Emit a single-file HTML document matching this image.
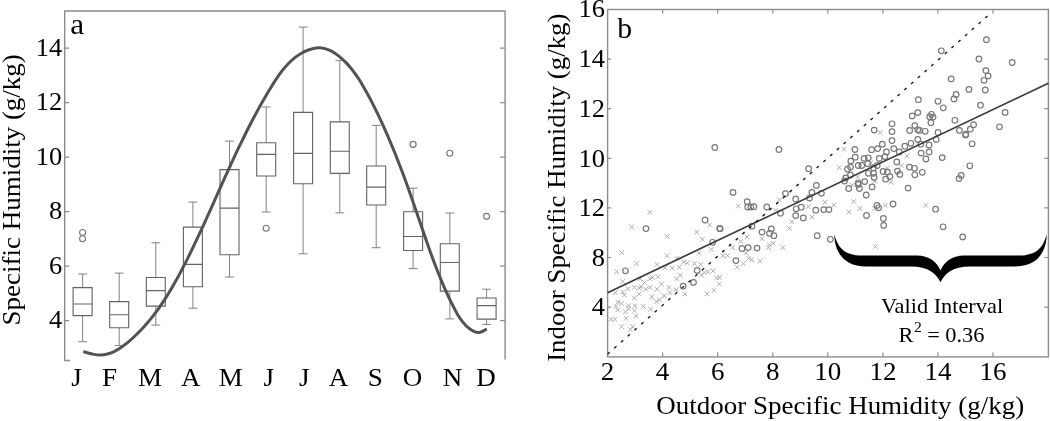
<!DOCTYPE html>
<html><head><meta charset="utf-8"><title>Specific humidity figure</title>
<style>
html,body{margin:0;padding:0;background:#fff;}
svg{display:block;font-family:'Liberation Serif', 'Times New Roman', serif;fill:#000;}
svg text{font-family:'Liberation Serif', 'Times New Roman', serif;}
</style></head><body>
<svg width="1050" height="421" viewBox="0 0 1050 421">
<rect width="1050" height="421" fill="#fff"/>
<path d="M70.2,360.5 H64.7 V11.0 H505.1 V359.5" fill="none" stroke="#8c8c8c" stroke-width="1.4"/>
<path d="M64.7,320.6 h4.5 M505.1,320.6 h-5" stroke="#8c8c8c" stroke-width="1.2" fill="none"/>
<text transform="translate(62.2,328.3) scale(1.06,1)" font-size="25" text-anchor="end">4</text>
<path d="M64.7,266.1 h4.5 M505.1,266.1 h-5" stroke="#8c8c8c" stroke-width="1.2" fill="none"/>
<text transform="translate(62.2,273.8) scale(1.06,1)" font-size="25" text-anchor="end">6</text>
<path d="M64.7,211.6 h4.5 M505.1,211.6 h-5" stroke="#8c8c8c" stroke-width="1.2" fill="none"/>
<text transform="translate(62.2,219.3) scale(1.06,1)" font-size="25" text-anchor="end">8</text>
<path d="M64.7,157.2 h4.5 M505.1,157.2 h-5" stroke="#8c8c8c" stroke-width="1.2" fill="none"/>
<text transform="translate(62.2,164.9) scale(1.06,1)" font-size="25" text-anchor="end">10</text>
<path d="M64.7,102.7 h4.5 M505.1,102.7 h-5" stroke="#8c8c8c" stroke-width="1.2" fill="none"/>
<text transform="translate(62.2,110.4) scale(1.06,1)" font-size="25" text-anchor="end">12</text>
<path d="M64.7,48.2 h4.5 M505.1,48.2 h-5" stroke="#8c8c8c" stroke-width="1.2" fill="none"/>
<text transform="translate(62.2,55.9) scale(1.06,1)" font-size="25" text-anchor="end">14</text>
<path d="M78.2,274 h8.8 M82.6,274 V287.6 M82.6,315.6 V341.7 M78.2,341.7 h8.8" fill="none" stroke="#7c7c7c" stroke-width="0.95"/>
<path d="M73.1,287.6 h19.0 V315.6 h-19.0 Z M73.1,304 h19.0" fill="none" stroke="#636363" stroke-width="1.1"/>
<circle cx="82.6" cy="232.5" r="3.0" fill="none" stroke="#777" stroke-width="1.15"/>
<circle cx="82.6" cy="238.7" r="3.0" fill="none" stroke="#777" stroke-width="1.15"/>
<path d="M114.8,273.1 h8.8 M119.2,273.1 V301.6 M119.2,327.7 V345.5 M114.8,345.5 h8.8" fill="none" stroke="#7c7c7c" stroke-width="0.95"/>
<path d="M109.7,301.6 h19.0 V327.7 h-19.0 Z M109.7,314.7 h19.0" fill="none" stroke="#636363" stroke-width="1.1"/>
<path d="M151.4,242.8 h8.8 M155.8,242.8 V277.5 M155.8,306.1 V325.1 M151.4,325.1 h8.8" fill="none" stroke="#7c7c7c" stroke-width="0.95"/>
<path d="M146.3,277.5 h19.0 V306.1 h-19.0 Z M146.3,290.6 h19.0" fill="none" stroke="#636363" stroke-width="1.1"/>
<path d="M188.5,202.1 h8.8 M192.9,202.1 V227.1 M192.9,286.7 V308.2 M188.5,308.2 h8.8" fill="none" stroke="#7c7c7c" stroke-width="0.95"/>
<path d="M183.4,227.1 h19.0 V286.7 h-19.0 Z M183.4,264.4 h19.0" fill="none" stroke="#636363" stroke-width="1.1"/>
<path d="M225.1,141.1 h8.8 M229.5,141.1 V169.6 M229.5,254.7 V277 M225.1,277 h8.8" fill="none" stroke="#7c7c7c" stroke-width="0.95"/>
<path d="M220.0,169.6 h19.0 V254.7 h-19.0 Z M220.0,208.1 h19.0" fill="none" stroke="#636363" stroke-width="1.1"/>
<path d="M261.8,107 h8.8 M266.2,107 V142.8 M266.2,176 V212 M261.8,212 h8.8" fill="none" stroke="#7c7c7c" stroke-width="0.95"/>
<path d="M256.7,142.8 h19.0 V176 h-19.0 Z M256.7,154.4 h19.0" fill="none" stroke="#636363" stroke-width="1.1"/>
<circle cx="266.2" cy="228.2" r="3.0" fill="none" stroke="#777" stroke-width="1.15"/>
<path d="M298.7,27.1 h8.8 M303.1,27.1 V112.4 M303.1,183.7 V253.8 M298.7,253.8 h8.8" fill="none" stroke="#7c7c7c" stroke-width="0.95"/>
<path d="M293.6,112.4 h19.0 V183.7 h-19.0 Z M293.6,153.4 h19.0" fill="none" stroke="#636363" stroke-width="1.1"/>
<path d="M335.4,60.4 h8.8 M339.8,60.4 V121.9 M339.8,173.4 V212.9 M335.4,212.9 h8.8" fill="none" stroke="#7c7c7c" stroke-width="0.95"/>
<path d="M330.3,121.9 h19.0 V173.4 h-19.0 Z M330.3,151.2 h19.0" fill="none" stroke="#636363" stroke-width="1.1"/>
<path d="M371.8,125.4 h8.8 M376.2,125.4 V166 M376.2,205 V247.7 M371.8,247.7 h8.8" fill="none" stroke="#7c7c7c" stroke-width="0.95"/>
<path d="M366.7,166 h19.0 V205 h-19.0 Z M366.7,187.1 h19.0" fill="none" stroke="#636363" stroke-width="1.1"/>
<path d="M408.7,188.2 h8.8 M413.1,188.2 V211.8 M413.1,250.5 V268.6 M408.7,268.6 h8.8" fill="none" stroke="#7c7c7c" stroke-width="0.95"/>
<path d="M403.6,211.8 h19.0 V250.5 h-19.0 Z M403.6,236.5 h19.0" fill="none" stroke="#636363" stroke-width="1.1"/>
<circle cx="413.1" cy="144.4" r="3.0" fill="none" stroke="#777" stroke-width="1.15"/>
<path d="M445.4,213 h8.8 M449.8,213 V243.7 M449.8,291.1 V318.9 M445.4,318.9 h8.8" fill="none" stroke="#7c7c7c" stroke-width="0.95"/>
<path d="M440.3,243.7 h19.0 V291.1 h-19.0 Z M440.3,262.5 h19.0" fill="none" stroke="#636363" stroke-width="1.1"/>
<circle cx="449.8" cy="153.2" r="3.0" fill="none" stroke="#777" stroke-width="1.15"/>
<path d="M482.2,289.2 h8.8 M486.6,289.2 V298 M486.6,319.1 V324.4 M482.2,324.4 h8.8" fill="none" stroke="#7c7c7c" stroke-width="0.95"/>
<path d="M477.1,298 h19.0 V319.1 h-19.0 Z M477.1,305.6 h19.0" fill="none" stroke="#636363" stroke-width="1.1"/>
<circle cx="486.6" cy="216.3" r="3.0" fill="none" stroke="#777" stroke-width="1.15"/>
<path d="M83.3,351.5 C84.8,352.0 89.2,353.6 92.4,354.1 C95.5,354.7 98.9,355.2 102.1,355.0 C105.2,354.8 108.3,354.0 111.2,352.9 C114.1,351.9 116.8,350.2 119.5,348.5 C122.2,346.8 124.7,344.8 127.2,342.8 C129.7,340.8 132.1,338.7 134.4,336.5 C136.8,334.3 139.0,332.1 141.2,329.8 C143.4,327.5 145.5,325.2 147.5,322.8 C149.6,320.4 151.6,317.9 153.5,315.4 C155.4,312.9 157.3,310.4 159.1,307.8 C161.0,305.2 162.7,302.5 164.5,299.9 C166.2,297.2 167.9,294.5 169.5,291.8 C171.2,289.0 172.8,286.3 174.3,283.5 C175.9,280.7 177.5,277.9 179.0,275.1 C180.5,272.3 182.0,269.5 183.4,266.6 C184.9,263.8 186.3,260.9 187.8,258.1 C189.2,255.2 190.6,252.4 192.0,249.5 C193.4,246.6 194.8,243.7 196.1,240.9 C197.5,238.0 198.9,235.1 200.2,232.2 C201.5,229.3 202.9,226.4 204.2,223.6 C205.5,220.7 206.8,217.8 208.1,214.9 C209.4,212.0 210.8,209.1 212.1,206.2 C213.4,203.3 214.6,200.4 215.9,197.5 C217.2,194.6 218.5,191.7 219.8,188.8 C221.1,185.9 222.4,183.0 223.7,180.1 C225.0,177.2 226.3,174.3 227.7,171.4 C229.0,168.5 230.3,165.7 231.6,162.8 C232.9,159.9 234.3,157.0 235.6,154.2 C237.0,151.3 238.3,148.4 239.7,145.6 C241.1,142.7 242.5,139.9 243.9,137.0 C245.3,134.2 246.7,131.3 248.1,128.5 C249.6,125.7 251.0,122.8 252.5,120.0 C254.0,117.2 255.5,114.4 257.0,111.6 C258.5,108.8 260.0,106.0 261.6,103.3 C263.2,100.5 264.8,97.7 266.4,95.0 C268.0,92.3 269.7,89.5 271.4,86.8 C273.0,84.1 274.7,81.3 276.5,78.7 C278.3,76.0 280.1,73.4 282.0,70.9 C284.0,68.4 286.0,66.0 288.2,63.7 C290.4,61.5 292.7,59.3 295.2,57.4 C297.7,55.5 300.4,53.7 303.2,52.2 C306.1,50.8 309.3,49.4 312.4,48.7 C315.5,47.9 318.8,47.6 321.8,48.0 C324.8,48.3 327.8,49.4 330.6,50.7 C333.4,52.1 336.1,54.0 338.6,55.9 C341.1,57.9 343.5,60.2 345.8,62.4 C348.0,64.7 350.1,67.1 352.1,69.6 C354.0,72.1 355.9,74.7 357.7,77.3 C359.4,79.9 361.1,82.6 362.7,85.4 C364.3,88.1 365.9,90.9 367.4,93.7 C368.9,96.5 370.4,99.3 371.9,102.1 C373.3,105.0 374.7,107.8 376.1,110.7 C377.5,113.5 378.9,116.4 380.3,119.3 C381.6,122.2 382.9,125.0 384.2,127.9 C385.5,130.8 386.8,133.8 388.1,136.7 C389.3,139.6 390.6,142.5 391.8,145.5 C393.0,148.4 394.2,151.3 395.4,154.3 C396.6,157.2 397.7,160.2 398.9,163.2 C400.0,166.1 401.2,169.1 402.3,172.1 C403.4,175.1 404.5,178.0 405.6,181.0 C406.7,184.0 407.8,187.0 408.8,190.0 C409.9,193.0 411.0,196.0 412.0,199.0 C413.1,202.0 414.1,205.0 415.1,208.0 C416.2,211.0 417.2,214.0 418.2,217.0 C419.3,220.0 420.3,223.0 421.3,226.0 C422.3,229.0 423.3,232.0 424.4,235.0 C425.4,238.0 426.5,241.0 427.5,244.0 C428.6,247.0 429.6,250.0 430.7,253.0 C431.8,255.9 432.9,258.9 434.0,261.9 C435.1,264.8 436.2,267.8 437.4,270.8 C438.6,273.7 439.8,276.7 441.0,279.6 C442.2,282.5 443.4,285.5 444.7,288.4 C446.0,291.3 447.3,294.2 448.7,297.1 C450.0,300.0 451.4,302.9 452.9,305.7 C454.3,308.6 455.8,311.5 457.4,314.2 C459.1,316.9 460.8,319.6 462.8,322.1 C464.8,324.5 467.0,327.0 469.6,328.8 C472.1,330.6 475.2,332.6 478.1,332.6 C481.0,332.7 485.4,329.7 486.9,329.2" fill="none" stroke="#525252" stroke-width="3.0" stroke-linecap="butt"/>
<text transform="translate(76.5,385.7) scale(1.08,1)" font-size="25" text-anchor="middle">J</text>
<text transform="translate(109.5,385.7) scale(1.08,1)" font-size="25" text-anchor="middle">F</text>
<text transform="translate(150,385.7) scale(1.08,1)" font-size="25" text-anchor="middle">M</text>
<text transform="translate(190.8,385.7) scale(1.08,1)" font-size="25" text-anchor="middle">A</text>
<text transform="translate(230.7,385.7) scale(1.08,1)" font-size="25" text-anchor="middle">M</text>
<text transform="translate(268.8,385.7) scale(1.08,1)" font-size="25" text-anchor="middle">J</text>
<text transform="translate(304.3,385.7) scale(1.08,1)" font-size="25" text-anchor="middle">J</text>
<text transform="translate(338.5,385.7) scale(1.08,1)" font-size="25" text-anchor="middle">A</text>
<text transform="translate(375.2,385.7) scale(1.08,1)" font-size="25" text-anchor="middle">S</text>
<text transform="translate(412.6,385.7) scale(1.08,1)" font-size="25" text-anchor="middle">O</text>
<text transform="translate(452.4,385.7) scale(1.08,1)" font-size="25" text-anchor="middle">N</text>
<text transform="translate(486,385.7) scale(1.08,1)" font-size="25" text-anchor="middle">D</text>
<text transform="translate(70.3,33.6) scale(1.1,1)" font-size="28.5">a</text>
<text transform="translate(19.9,189.8) rotate(-90) scale(1.08,1)" font-size="25" text-anchor="middle">Specific Humidity (g/kg)</text>
<rect x="607.6" y="9.5" width="440.8" height="347.4" fill="none" stroke="#8c8c8c" stroke-width="1.4"/>
<text transform="translate(607.6,380.4) scale(1.08,1)" font-size="25" text-anchor="middle">2</text>
<path d="M662.6,356.9 v-4.5 M662.6,9.5 v4" stroke="#8c8c8c" stroke-width="1.2" fill="none"/>
<text transform="translate(662.6,380.4) scale(1.08,1)" font-size="25" text-anchor="middle">4</text>
<path d="M717.7,356.9 v-4.5 M717.7,9.5 v4" stroke="#8c8c8c" stroke-width="1.2" fill="none"/>
<text transform="translate(717.7,380.4) scale(1.08,1)" font-size="25" text-anchor="middle">6</text>
<path d="M772.8,356.9 v-4.5 M772.8,9.5 v4" stroke="#8c8c8c" stroke-width="1.2" fill="none"/>
<text transform="translate(772.8,380.4) scale(1.08,1)" font-size="25" text-anchor="middle">8</text>
<path d="M827.8,356.9 v-4.5 M827.8,9.5 v4" stroke="#8c8c8c" stroke-width="1.2" fill="none"/>
<text transform="translate(827.8,380.4) scale(1.08,1)" font-size="25" text-anchor="middle">10</text>
<path d="M882.9,356.9 v-4.5 M882.9,9.5 v4" stroke="#8c8c8c" stroke-width="1.2" fill="none"/>
<text transform="translate(882.9,380.4) scale(1.08,1)" font-size="25" text-anchor="middle">12</text>
<path d="M937.9,356.9 v-4.5 M937.9,9.5 v4" stroke="#8c8c8c" stroke-width="1.2" fill="none"/>
<text transform="translate(937.9,380.4) scale(1.08,1)" font-size="25" text-anchor="middle">14</text>
<path d="M993.0,356.9 v-4.5 M993.0,9.5 v4" stroke="#8c8c8c" stroke-width="1.2" fill="none"/>
<text transform="translate(993.0,380.4) scale(1.08,1)" font-size="25" text-anchor="middle">16</text>
<text transform="translate(605.0,17.1) scale(1.06,1)" font-size="25" text-anchor="end">16</text>
<path d="M607.6,59.1 h3.5 M1048.4,59.1 h-4" stroke="#8c8c8c" stroke-width="1.2" fill="none"/>
<text transform="translate(605.0,67.4) scale(1.06,1)" font-size="25" text-anchor="end">14</text>
<path d="M607.6,108.7 h3.5 M1048.4,108.7 h-4" stroke="#8c8c8c" stroke-width="1.2" fill="none"/>
<text transform="translate(605.0,117.0) scale(1.06,1)" font-size="25" text-anchor="end">12</text>
<path d="M607.6,158.3 h3.5 M1048.4,158.3 h-4" stroke="#8c8c8c" stroke-width="1.2" fill="none"/>
<text transform="translate(605.0,166.6) scale(1.06,1)" font-size="25" text-anchor="end">10</text>
<path d="M607.6,207.9 h3.5 M1048.4,207.9 h-4" stroke="#8c8c8c" stroke-width="1.2" fill="none"/>
<text transform="translate(605.0,216.2) scale(1.06,1)" font-size="25" text-anchor="end">12</text>
<path d="M607.6,257.5 h3.5 M1048.4,257.5 h-4" stroke="#8c8c8c" stroke-width="1.2" fill="none"/>
<text transform="translate(605.0,265.8) scale(1.06,1)" font-size="25" text-anchor="end">8</text>
<path d="M607.6,307.1 h3.5 M1048.4,307.1 h-4" stroke="#8c8c8c" stroke-width="1.2" fill="none"/>
<text transform="translate(605.0,315.4) scale(1.06,1)" font-size="25" text-anchor="end">4</text>
<path d="M613.1,290.4l4.6,4.6m0,-4.6l-4.6,4.6M620.3,289.8l4.6,4.6m0,-4.6l-4.6,4.6M622.0,292.8l4.6,4.6m0,-4.6l-4.6,4.6M625.6,286.3l4.6,4.6m0,-4.6l-4.6,4.6M632.1,285.1l4.6,4.6m0,-4.6l-4.6,4.6M636.9,285.7l4.6,4.6m0,-4.6l-4.6,4.6M638.7,284.5l4.6,4.6m0,-4.6l-4.6,4.6M643.4,286.9l4.6,4.6m0,-4.6l-4.6,4.6M647.6,285.1l4.6,4.6m0,-4.6l-4.6,4.6M654.7,286.9l4.6,4.6m0,-4.6l-4.6,4.6M636.9,291.6l4.6,4.6m0,-4.6l-4.6,4.6M632.1,295.8l4.6,4.6m0,-4.6l-4.6,4.6M615.5,299.9l4.6,4.6m0,-4.6l-4.6,4.6M619.1,301.1l4.6,4.6m0,-4.6l-4.6,4.6M613.7,304.1l4.6,4.6m0,-4.6l-4.6,4.6M615.5,307.6l4.6,4.6m0,-4.6l-4.6,4.6M626.2,303.5l4.6,4.6m0,-4.6l-4.6,4.6M632.7,303.5l4.6,4.6m0,-4.6l-4.6,4.6M623.2,309.4l4.6,4.6m0,-4.6l-4.6,4.6M626.2,306.5l4.6,4.6m0,-4.6l-4.6,4.6M632.1,308.2l4.6,4.6m0,-4.6l-4.6,4.6M633.9,313.6l4.6,4.6m0,-4.6l-4.6,4.6M623.8,316.0l4.6,4.6m0,-4.6l-4.6,4.6M641.0,304.1l4.6,4.6m0,-4.6l-4.6,4.6M648.2,307.0l4.6,4.6m0,-4.6l-4.6,4.6M649.4,294.6l4.6,4.6m0,-4.6l-4.6,4.6M654.1,299.3l4.6,4.6m0,-4.6l-4.6,4.6M657.1,297.5l4.6,4.6m0,-4.6l-4.6,4.6M661.8,293.4l4.6,4.6m0,-4.6l-4.6,4.6M667.8,290.4l4.6,4.6m0,-4.6l-4.6,4.6M666.6,285.1l4.6,4.6m0,-4.6l-4.6,4.6M673.7,287.5l4.6,4.6m0,-4.6l-4.6,4.6M682.6,291.6l4.6,4.6m0,-4.6l-4.6,4.6M608.4,317.1l4.6,4.6m0,-4.6l-4.6,4.6M612.5,317.1l4.6,4.6m0,-4.6l-4.6,4.6M619.3,324.3l4.6,4.6m0,-4.6l-4.6,4.6M628.0,327.2l4.6,4.6m0,-4.6l-4.6,4.6M630.4,324.3l4.6,4.6m0,-4.6l-4.6,4.6M841.9,147.0l4.6,4.6m0,-4.6l-4.6,4.6M836.9,165.3l4.6,4.6m0,-4.6l-4.6,4.6M855.3,174.5l4.6,4.6m0,-4.6l-4.6,4.6M888.6,179.9l4.6,4.6m0,-4.6l-4.6,4.6M872.5,178.7l4.6,4.6m0,-4.6l-4.6,4.6M850.0,182.8l4.6,4.6m0,-4.6l-4.6,4.6M885.0,165.6l4.6,4.6m0,-4.6l-4.6,4.6M868.4,160.3l4.6,4.6m0,-4.6l-4.6,4.6M904.6,153.7l4.6,4.6m0,-4.6l-4.6,4.6M898.9,163.2l4.6,4.6m0,-4.6l-4.6,4.6M877.9,130.2l4.6,4.6m0,-4.6l-4.6,4.6M822.6,199.9l4.6,4.6m0,-4.6l-4.6,4.6M831.5,202.9l4.6,4.6m0,-4.6l-4.6,4.6M806.0,204.3l4.6,4.6m0,-4.6l-4.6,4.6M809.6,214.8l4.6,4.6m0,-4.6l-4.6,4.6M851.4,199.2l4.6,4.6m0,-4.6l-4.6,4.6M857.4,206.1l4.6,4.6m0,-4.6l-4.6,4.6M846.6,209.9l4.6,4.6m0,-4.6l-4.6,4.6M883.2,202.9l4.6,4.6m0,-4.6l-4.6,4.6M872.5,206.1l4.6,4.6m0,-4.6l-4.6,4.6M923.6,203.1l4.6,4.6m0,-4.6l-4.6,4.6M629.4,224.5l4.6,4.6m0,-4.6l-4.6,4.6M665.0,234.1l4.6,4.6m0,-4.6l-4.6,4.6M694.4,229.8l4.6,4.6m0,-4.6l-4.6,4.6M707.3,222.7l4.6,4.6m0,-4.6l-4.6,4.6M700.1,236.9l4.6,4.6m0,-4.6l-4.6,4.6M619.4,250.3l4.6,4.6m0,-4.6l-4.6,4.6M664.5,253.3l4.6,4.6m0,-4.6l-4.6,4.6M674.8,256.0l4.6,4.6m0,-4.6l-4.6,4.6M634.2,261.3l4.6,4.6m0,-4.6l-4.6,4.6M654.7,262.2l4.6,4.6m0,-4.6l-4.6,4.6M614.3,269.4l4.6,4.6m0,-4.6l-4.6,4.6M662.7,265.4l4.6,4.6m0,-4.6l-4.6,4.6M669.9,265.8l4.6,4.6m0,-4.6l-4.6,4.6M677.0,264.9l4.6,4.6m0,-4.6l-4.6,4.6M681.4,259.6l4.6,4.6m0,-4.6l-4.6,4.6M685.0,260.5l4.6,4.6m0,-4.6l-4.6,4.6M692.1,261.3l4.6,4.6m0,-4.6l-4.6,4.6M698.4,262.2l4.6,4.6m0,-4.6l-4.6,4.6M620.3,279.2l4.6,4.6m0,-4.6l-4.6,4.6M637.8,276.5l4.6,4.6m0,-4.6l-4.6,4.6M642.2,280.1l4.6,4.6m0,-4.6l-4.6,4.6M647.6,276.5l4.6,4.6m0,-4.6l-4.6,4.6M650.3,275.1l4.6,4.6m0,-4.6l-4.6,4.6M655.6,274.4l4.6,4.6m0,-4.6l-4.6,4.6M659.2,281.8l4.6,4.6m0,-4.6l-4.6,4.6M674.3,276.5l4.6,4.6m0,-4.6l-4.6,4.6M677.9,272.9l4.6,4.6m0,-4.6l-4.6,4.6M699.2,272.9l4.6,4.6m0,-4.6l-4.6,4.6M701.9,270.3l4.6,4.6m0,-4.6l-4.6,4.6M705.5,269.4l4.6,4.6m0,-4.6l-4.6,4.6M710.8,268.5l4.6,4.6m0,-4.6l-4.6,4.6M709.0,247.1l4.6,4.6m0,-4.6l-4.6,4.6M696.6,250.7l4.6,4.6m0,-4.6l-4.6,4.6M714.4,275.6l4.6,4.6m0,-4.6l-4.6,4.6M717.4,275.1l4.6,4.6m0,-4.6l-4.6,4.6M717.1,281.8l4.6,4.6m0,-4.6l-4.6,4.6M720.6,253.3l4.6,4.6m0,-4.6l-4.6,4.6M725.1,253.3l4.6,4.6m0,-4.6l-4.6,4.6M730.4,245.3l4.6,4.6m0,-4.6l-4.6,4.6M738.4,239.1l4.6,4.6m0,-4.6l-4.6,4.6M744.7,234.6l4.6,4.6m0,-4.6l-4.6,4.6M734.9,264.9l4.6,4.6m0,-4.6l-4.6,4.6M741.1,261.3l4.6,4.6m0,-4.6l-4.6,4.6M746.5,256.0l4.6,4.6m0,-4.6l-4.6,4.6M743.8,250.7l4.6,4.6m0,-4.6l-4.6,4.6M711.7,288.1l4.6,4.6m0,-4.6l-4.6,4.6M704.6,291.6l4.6,4.6m0,-4.6l-4.6,4.6M759.7,236.4l4.6,4.6m0,-4.6l-4.6,4.6M767.2,242.6l4.6,4.6m0,-4.6l-4.6,4.6M766.3,245.3l4.6,4.6m0,-4.6l-4.6,4.6M771.1,240.9l4.6,4.6m0,-4.6l-4.6,4.6M780.5,245.3l4.6,4.6m0,-4.6l-4.6,4.6M787.1,226.1l4.6,4.6m0,-4.6l-4.6,4.6M789.5,219.5l4.6,4.6m0,-4.6l-4.6,4.6M749.4,257.3l4.6,4.6m0,-4.6l-4.6,4.6M757.7,259.0l4.6,4.6m0,-4.6l-4.6,4.6M736.0,203.8l4.6,4.6m0,-4.6l-4.6,4.6M777.0,197.6l4.6,4.6m0,-4.6l-4.6,4.6M773.4,207.9l4.6,4.6m0,-4.6l-4.6,4.6M647.6,210.1l4.6,4.6m0,-4.6l-4.6,4.6M873.1,244.1l4.6,4.6m0,-4.6l-4.6,4.6" fill="none" stroke="#ababab" stroke-width="1"/>
<circle cx="683.1" cy="286.2" r="2.8" fill="none" stroke="#787878" stroke-width="1.2"/>
<circle cx="808.6" cy="168.7" r="2.8" fill="none" stroke="#787878" stroke-width="1.2"/>
<circle cx="816.4" cy="185.4" r="2.8" fill="none" stroke="#787878" stroke-width="1.2"/>
<circle cx="854.9" cy="149.5" r="2.8" fill="none" stroke="#787878" stroke-width="1.2"/>
<circle cx="855.2" cy="157.2" r="2.8" fill="none" stroke="#787878" stroke-width="1.2"/>
<circle cx="850.8" cy="161.1" r="2.8" fill="none" stroke="#787878" stroke-width="1.2"/>
<circle cx="850.5" cy="167.1" r="2.8" fill="none" stroke="#787878" stroke-width="1.2"/>
<circle cx="847.5" cy="169.1" r="2.8" fill="none" stroke="#787878" stroke-width="1.2"/>
<circle cx="858.2" cy="165.5" r="2.8" fill="none" stroke="#787878" stroke-width="1.2"/>
<circle cx="861.8" cy="165.5" r="2.8" fill="none" stroke="#787878" stroke-width="1.2"/>
<circle cx="864.1" cy="158.4" r="2.8" fill="none" stroke="#787878" stroke-width="1.2"/>
<circle cx="868.3" cy="157.8" r="2.8" fill="none" stroke="#787878" stroke-width="1.2"/>
<circle cx="867.7" cy="163.8" r="2.8" fill="none" stroke="#787878" stroke-width="1.2"/>
<circle cx="871.6" cy="149.7" r="2.8" fill="none" stroke="#787878" stroke-width="1.2"/>
<circle cx="877.6" cy="148.6" r="2.8" fill="none" stroke="#787878" stroke-width="1.2"/>
<circle cx="882.3" cy="144.2" r="2.8" fill="none" stroke="#787878" stroke-width="1.2"/>
<circle cx="892.0" cy="140.6" r="2.8" fill="none" stroke="#787878" stroke-width="1.2"/>
<circle cx="893.8" cy="148.6" r="2.8" fill="none" stroke="#787878" stroke-width="1.2"/>
<circle cx="886.5" cy="151.9" r="2.8" fill="none" stroke="#787878" stroke-width="1.2"/>
<circle cx="884.9" cy="156.6" r="2.8" fill="none" stroke="#787878" stroke-width="1.2"/>
<circle cx="879.3" cy="158.4" r="2.8" fill="none" stroke="#787878" stroke-width="1.2"/>
<circle cx="896.8" cy="162.0" r="2.8" fill="none" stroke="#787878" stroke-width="1.2"/>
<circle cx="897.4" cy="171.1" r="2.8" fill="none" stroke="#787878" stroke-width="1.2"/>
<circle cx="877.2" cy="165.5" r="2.8" fill="none" stroke="#787878" stroke-width="1.2"/>
<circle cx="873.6" cy="167.9" r="2.8" fill="none" stroke="#787878" stroke-width="1.2"/>
<circle cx="868.3" cy="173.3" r="2.8" fill="none" stroke="#787878" stroke-width="1.2"/>
<circle cx="873.6" cy="173.3" r="2.8" fill="none" stroke="#787878" stroke-width="1.2"/>
<circle cx="874.2" cy="177.4" r="2.8" fill="none" stroke="#787878" stroke-width="1.2"/>
<circle cx="883.1" cy="171.5" r="2.8" fill="none" stroke="#787878" stroke-width="1.2"/>
<circle cx="887.3" cy="172.1" r="2.8" fill="none" stroke="#787878" stroke-width="1.2"/>
<circle cx="889.9" cy="176.6" r="2.8" fill="none" stroke="#787878" stroke-width="1.2"/>
<circle cx="885.7" cy="179.2" r="2.8" fill="none" stroke="#787878" stroke-width="1.2"/>
<circle cx="864.7" cy="181.6" r="2.8" fill="none" stroke="#787878" stroke-width="1.2"/>
<circle cx="858.2" cy="182.8" r="2.8" fill="none" stroke="#787878" stroke-width="1.2"/>
<circle cx="858.2" cy="184.5" r="2.8" fill="none" stroke="#787878" stroke-width="1.2"/>
<circle cx="848.7" cy="188.5" r="2.8" fill="none" stroke="#787878" stroke-width="1.2"/>
<circle cx="859.4" cy="188.5" r="2.8" fill="none" stroke="#787878" stroke-width="1.2"/>
<circle cx="872.1" cy="186.9" r="2.8" fill="none" stroke="#787878" stroke-width="1.2"/>
<circle cx="844.5" cy="181.0" r="2.8" fill="none" stroke="#787878" stroke-width="1.2"/>
<circle cx="850.5" cy="175.0" r="2.8" fill="none" stroke="#787878" stroke-width="1.2"/>
<circle cx="845.7" cy="178.0" r="2.8" fill="none" stroke="#787878" stroke-width="1.2"/>
<circle cx="899.2" cy="151.9" r="2.8" fill="none" stroke="#787878" stroke-width="1.2"/>
<circle cx="899.8" cy="174.4" r="2.8" fill="none" stroke="#787878" stroke-width="1.2"/>
<circle cx="904.8" cy="146.2" r="2.8" fill="none" stroke="#787878" stroke-width="1.2"/>
<circle cx="910.9" cy="143.3" r="2.8" fill="none" stroke="#787878" stroke-width="1.2"/>
<circle cx="920.8" cy="144.2" r="2.8" fill="none" stroke="#787878" stroke-width="1.2"/>
<circle cx="929.1" cy="145.0" r="2.8" fill="none" stroke="#787878" stroke-width="1.2"/>
<circle cx="929.1" cy="151.9" r="2.8" fill="none" stroke="#787878" stroke-width="1.2"/>
<circle cx="921.1" cy="153.1" r="2.8" fill="none" stroke="#787878" stroke-width="1.2"/>
<circle cx="925.9" cy="159.0" r="2.8" fill="none" stroke="#787878" stroke-width="1.2"/>
<circle cx="942.2" cy="157.6" r="2.8" fill="none" stroke="#787878" stroke-width="1.2"/>
<circle cx="972.1" cy="143.8" r="2.8" fill="none" stroke="#787878" stroke-width="1.2"/>
<circle cx="969.8" cy="165.8" r="2.8" fill="none" stroke="#787878" stroke-width="1.2"/>
<circle cx="961.2" cy="175.4" r="2.8" fill="none" stroke="#787878" stroke-width="1.2"/>
<circle cx="959.0" cy="178.6" r="2.8" fill="none" stroke="#787878" stroke-width="1.2"/>
<circle cx="909.5" cy="167.1" r="2.8" fill="none" stroke="#787878" stroke-width="1.2"/>
<circle cx="914.5" cy="168.3" r="2.8" fill="none" stroke="#787878" stroke-width="1.2"/>
<circle cx="914.8" cy="174.8" r="2.8" fill="none" stroke="#787878" stroke-width="1.2"/>
<circle cx="922.3" cy="172.3" r="2.8" fill="none" stroke="#787878" stroke-width="1.2"/>
<circle cx="908.1" cy="188.1" r="2.8" fill="none" stroke="#787878" stroke-width="1.2"/>
<circle cx="936.2" cy="139.4" r="2.8" fill="none" stroke="#787878" stroke-width="1.2"/>
<circle cx="917.8" cy="139.4" r="2.8" fill="none" stroke="#787878" stroke-width="1.2"/>
<circle cx="874.2" cy="130.1" r="2.8" fill="none" stroke="#787878" stroke-width="1.2"/>
<circle cx="892.0" cy="123.8" r="2.8" fill="none" stroke="#787878" stroke-width="1.2"/>
<circle cx="892.0" cy="131.6" r="2.8" fill="none" stroke="#787878" stroke-width="1.2"/>
<circle cx="918.4" cy="99.7" r="2.8" fill="none" stroke="#787878" stroke-width="1.2"/>
<circle cx="938.0" cy="101.3" r="2.8" fill="none" stroke="#787878" stroke-width="1.2"/>
<circle cx="943.3" cy="107.8" r="2.8" fill="none" stroke="#787878" stroke-width="1.2"/>
<circle cx="956.1" cy="94.5" r="2.8" fill="none" stroke="#787878" stroke-width="1.2"/>
<circle cx="954.0" cy="98.9" r="2.8" fill="none" stroke="#787878" stroke-width="1.2"/>
<circle cx="985.3" cy="90.0" r="2.8" fill="none" stroke="#787878" stroke-width="1.2"/>
<circle cx="968.9" cy="89.4" r="2.8" fill="none" stroke="#787878" stroke-width="1.2"/>
<circle cx="980.5" cy="105.2" r="2.8" fill="none" stroke="#787878" stroke-width="1.2"/>
<circle cx="917.8" cy="112.6" r="2.8" fill="none" stroke="#787878" stroke-width="1.2"/>
<circle cx="912.2" cy="115.9" r="2.8" fill="none" stroke="#787878" stroke-width="1.2"/>
<circle cx="931.5" cy="114.3" r="2.8" fill="none" stroke="#787878" stroke-width="1.2"/>
<circle cx="929.7" cy="116.7" r="2.8" fill="none" stroke="#787878" stroke-width="1.2"/>
<circle cx="933.0" cy="117.1" r="2.8" fill="none" stroke="#787878" stroke-width="1.2"/>
<circle cx="930.9" cy="122.7" r="2.8" fill="none" stroke="#787878" stroke-width="1.2"/>
<circle cx="954.9" cy="120.3" r="2.8" fill="none" stroke="#787878" stroke-width="1.2"/>
<circle cx="914.8" cy="125.6" r="2.8" fill="none" stroke="#787878" stroke-width="1.2"/>
<circle cx="909.7" cy="130.4" r="2.8" fill="none" stroke="#787878" stroke-width="1.2"/>
<circle cx="917.8" cy="129.8" r="2.8" fill="none" stroke="#787878" stroke-width="1.2"/>
<circle cx="919.6" cy="130.4" r="2.8" fill="none" stroke="#787878" stroke-width="1.2"/>
<circle cx="925.2" cy="131.3" r="2.8" fill="none" stroke="#787878" stroke-width="1.2"/>
<circle cx="938.0" cy="132.5" r="2.8" fill="none" stroke="#787878" stroke-width="1.2"/>
<circle cx="959.4" cy="130.4" r="2.8" fill="none" stroke="#787878" stroke-width="1.2"/>
<circle cx="965.9" cy="134.2" r="2.8" fill="none" stroke="#787878" stroke-width="1.2"/>
<circle cx="965.6" cy="135.1" r="2.8" fill="none" stroke="#787878" stroke-width="1.2"/>
<circle cx="970.3" cy="129.2" r="2.8" fill="none" stroke="#787878" stroke-width="1.2"/>
<circle cx="973.6" cy="124.7" r="2.8" fill="none" stroke="#787878" stroke-width="1.2"/>
<circle cx="999.5" cy="126.8" r="2.8" fill="none" stroke="#787878" stroke-width="1.2"/>
<circle cx="811.9" cy="192.4" r="2.8" fill="none" stroke="#787878" stroke-width="1.2"/>
<circle cx="821.4" cy="193.3" r="2.8" fill="none" stroke="#787878" stroke-width="1.2"/>
<circle cx="809.5" cy="198.1" r="2.8" fill="none" stroke="#787878" stroke-width="1.2"/>
<circle cx="801.2" cy="207.2" r="2.8" fill="none" stroke="#787878" stroke-width="1.2"/>
<circle cx="815.8" cy="210.2" r="2.8" fill="none" stroke="#787878" stroke-width="1.2"/>
<circle cx="823.8" cy="209.6" r="2.8" fill="none" stroke="#787878" stroke-width="1.2"/>
<circle cx="828.9" cy="209.6" r="2.8" fill="none" stroke="#787878" stroke-width="1.2"/>
<circle cx="803.3" cy="217.9" r="2.8" fill="none" stroke="#787878" stroke-width="1.2"/>
<circle cx="817.2" cy="235.7" r="2.8" fill="none" stroke="#787878" stroke-width="1.2"/>
<circle cx="830.3" cy="239.3" r="2.8" fill="none" stroke="#787878" stroke-width="1.2"/>
<circle cx="866.2" cy="195.0" r="2.8" fill="none" stroke="#787878" stroke-width="1.2"/>
<circle cx="877.0" cy="205.4" r="2.8" fill="none" stroke="#787878" stroke-width="1.2"/>
<circle cx="878.6" cy="207.8" r="2.8" fill="none" stroke="#787878" stroke-width="1.2"/>
<circle cx="893.0" cy="204.0" r="2.8" fill="none" stroke="#787878" stroke-width="1.2"/>
<circle cx="866.5" cy="215.5" r="2.8" fill="none" stroke="#787878" stroke-width="1.2"/>
<circle cx="883.4" cy="218.5" r="2.8" fill="none" stroke="#787878" stroke-width="1.2"/>
<circle cx="883.7" cy="225.4" r="2.8" fill="none" stroke="#787878" stroke-width="1.2"/>
<circle cx="935.6" cy="209.2" r="2.8" fill="none" stroke="#787878" stroke-width="1.2"/>
<circle cx="943.1" cy="226.8" r="2.8" fill="none" stroke="#787878" stroke-width="1.2"/>
<circle cx="962.7" cy="236.9" r="2.8" fill="none" stroke="#787878" stroke-width="1.2"/>
<circle cx="646.0" cy="228.6" r="2.8" fill="none" stroke="#787878" stroke-width="1.2"/>
<circle cx="625.5" cy="270.8" r="2.8" fill="none" stroke="#787878" stroke-width="1.2"/>
<circle cx="705.1" cy="220.0" r="2.8" fill="none" stroke="#787878" stroke-width="1.2"/>
<circle cx="719.7" cy="228.4" r="2.8" fill="none" stroke="#787878" stroke-width="1.2"/>
<circle cx="720.1" cy="228.7" r="2.8" fill="none" stroke="#787878" stroke-width="1.2"/>
<circle cx="712.6" cy="242.3" r="2.8" fill="none" stroke="#787878" stroke-width="1.2"/>
<circle cx="742.0" cy="248.5" r="2.8" fill="none" stroke="#787878" stroke-width="1.2"/>
<circle cx="748.2" cy="247.6" r="2.8" fill="none" stroke="#787878" stroke-width="1.2"/>
<circle cx="735.9" cy="260.6" r="2.8" fill="none" stroke="#787878" stroke-width="1.2"/>
<circle cx="697.1" cy="270.4" r="2.8" fill="none" stroke="#787878" stroke-width="1.2"/>
<circle cx="693.5" cy="282.4" r="2.8" fill="none" stroke="#787878" stroke-width="1.2"/>
<circle cx="752.0" cy="226.2" r="2.8" fill="none" stroke="#787878" stroke-width="1.2"/>
<circle cx="762.0" cy="232.1" r="2.8" fill="none" stroke="#787878" stroke-width="1.2"/>
<circle cx="771.3" cy="228.9" r="2.8" fill="none" stroke="#787878" stroke-width="1.2"/>
<circle cx="769.5" cy="233.4" r="2.8" fill="none" stroke="#787878" stroke-width="1.2"/>
<circle cx="773.9" cy="235.7" r="2.8" fill="none" stroke="#787878" stroke-width="1.2"/>
<circle cx="757.0" cy="248.1" r="2.8" fill="none" stroke="#787878" stroke-width="1.2"/>
<circle cx="778.9" cy="149.5" r="2.8" fill="none" stroke="#787878" stroke-width="1.2"/>
<circle cx="733.0" cy="192.4" r="2.8" fill="none" stroke="#787878" stroke-width="1.2"/>
<circle cx="747.2" cy="201.7" r="2.8" fill="none" stroke="#787878" stroke-width="1.2"/>
<circle cx="747.7" cy="207.0" r="2.8" fill="none" stroke="#787878" stroke-width="1.2"/>
<circle cx="750.8" cy="207.0" r="2.8" fill="none" stroke="#787878" stroke-width="1.2"/>
<circle cx="753.8" cy="206.7" r="2.8" fill="none" stroke="#787878" stroke-width="1.2"/>
<circle cx="766.8" cy="207.0" r="2.8" fill="none" stroke="#787878" stroke-width="1.2"/>
<circle cx="785.5" cy="193.6" r="2.8" fill="none" stroke="#787878" stroke-width="1.2"/>
<circle cx="780.5" cy="213.2" r="2.8" fill="none" stroke="#787878" stroke-width="1.2"/>
<circle cx="795.7" cy="199.0" r="2.8" fill="none" stroke="#787878" stroke-width="1.2"/>
<circle cx="796.2" cy="208.8" r="2.8" fill="none" stroke="#787878" stroke-width="1.2"/>
<circle cx="795.7" cy="215.6" r="2.8" fill="none" stroke="#787878" stroke-width="1.2"/>
<circle cx="714.8" cy="147.5" r="2.8" fill="none" stroke="#787878" stroke-width="1.2"/>
<circle cx="951.2" cy="78.9" r="2.8" fill="none" stroke="#787878" stroke-width="1.2"/>
<circle cx="988.1" cy="75.9" r="2.8" fill="none" stroke="#787878" stroke-width="1.2"/>
<circle cx="984.0" cy="80.3" r="2.8" fill="none" stroke="#787878" stroke-width="1.2"/>
<circle cx="1005.1" cy="112.4" r="2.8" fill="none" stroke="#787878" stroke-width="1.2"/>
<circle cx="986.4" cy="39.7" r="2.8" fill="none" stroke="#787878" stroke-width="1.2"/>
<circle cx="941.3" cy="50.8" r="2.8" fill="none" stroke="#787878" stroke-width="1.2"/>
<circle cx="978.9" cy="59.0" r="2.8" fill="none" stroke="#787878" stroke-width="1.2"/>
<circle cx="1012.2" cy="62.5" r="2.8" fill="none" stroke="#787878" stroke-width="1.2"/>
<circle cx="985.9" cy="70.6" r="2.8" fill="none" stroke="#787878" stroke-width="1.2"/>
<path d="M607.6,292.7 L1048.4,83.2" stroke="#3a3a3a" stroke-width="1.7" fill="none"/>
<path d="M607.5,354.2 L987.5,16.0" stroke="#1a1a1a" stroke-width="1.4" stroke-dasharray="3 6.03" fill="none"/>
<path d="M834.3,234.3 C837.5,246 843,255.6 862,255.6 L917,255.6 C929,255.6 937,262 940.5,270.6 C944.0,262 952.0,255.6 964.0,255.6 L1019.0,255.6 C1038.0,255.6 1043.5,246 1046.7,234.3 C1046.5,250 1039.0,266.4 1015.0,266.4 L970.0,266.4 C953.0,266.4 945.0,273 940.5,282.3 C936,273 928,266.4 911,266.4 L866,266.4 C842,266.4 834.5,250 834.3,234.3 Z" fill="#000"/>
<text transform="translate(942,312.6) scale(1.08,1)" font-size="20.7" text-anchor="middle">Valid Interval</text>
<text transform="translate(898.6,342.2) scale(1.08,1)" font-size="20.7">R<tspan font-size="14.5" dy="-9.8" dx="0.5">2</tspan><tspan dy="9.8" dx="-0.3"> = 0.36</tspan></text>
<text transform="translate(617.3,37.5) scale(1.04,1)" font-size="28.5">b</text>
<text transform="translate(840.3,413.5) scale(1.08,1)" font-size="25" text-anchor="middle">Outdoor Specific Humidity (g/kg)</text>
<text transform="translate(564.6,187.7) rotate(-90) scale(1.075,1)" font-size="25" text-anchor="middle">Indoor Specific Humidity (g/kg)</text>
</svg>
</body></html>
